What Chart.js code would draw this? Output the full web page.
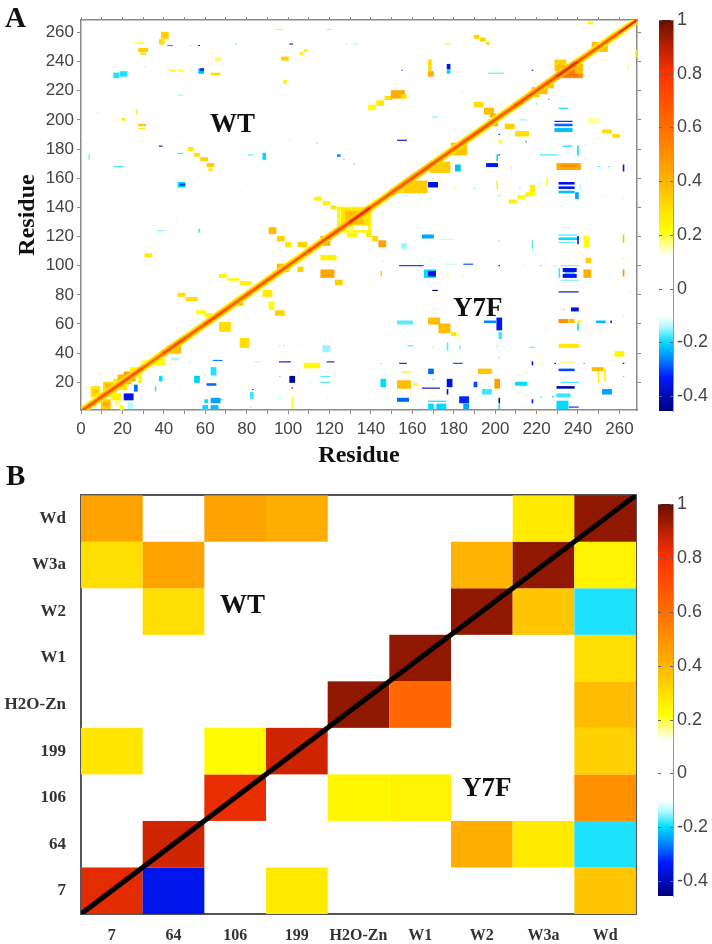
<!DOCTYPE html>
<html>
<head>
<meta charset="utf-8">
<script src="https://cdn.jsdelivr.net/npm/chart.js@4"></script>
<style>
  html, body { margin: 0; padding: 0; background: #fff; }
  #page { position: relative; width: 712px; height: 944px; overflow: hidden; }
  canvas { position: absolute; }
  #mapA { left: 0; top: 0; filter: blur(0.7px); }
  #barA { left: 650px; top: 0; filter: blur(0.4px); }
  #mapB { left: 0; top: 470px; filter: blur(0.4px); }
  #barB { left: 650px; top: 470px; filter: blur(0.4px); }
  .tag { position: absolute; font: bold 27px "Liberation Serif", serif; color: #111; line-height: 1; }
</style>
</head>
<body>
<div id="page">
  <canvas id="mapA" width="650" height="470"></canvas>
  <canvas id="barA" width="62" height="440"></canvas>
  <canvas id="mapB" width="650" height="474"></canvas>
  <canvas id="barB" width="62" height="474"></canvas>
  <div class="tag" style="left:5px;top:3px;font-size:29px">A</div>
  <div class="tag" style="left:6px;top:461px;font-size:29px">B</div>
  <div class="tag" style="left:210px;top:110px">WT</div>
  <div class="tag" style="left:453px;top:294px">Y7F</div>
  <div class="tag" style="left:220px;top:591px">WT</div>
  <div class="tag" style="left:462px;top:774px">Y7F</div>
</div>
<script>
// panel A: residue ticks
const residueTicksX = [0,10,20,30,40,50,60,70,80,90,100,110,120,130,140,150,160,170,180,190,200,210,220,230,240,250,260];
const residueTicksY = [20,40,60,80,100,120,140,160,180,200,220,240,260];

// panel A: diagonal, value per stretch of residues
const diagonalResidues = [1,10,20,30,40,50,60,70,80,90,100,110,120,130,140,150,160,170,180,190,200,210,220,230,240,250,260,268];
const diagonalCore = [.72,.75,.75,.66,.75,.7,.76,.68,.72,.72,.7,.75,.76,.85,.7,.7,.75,.7,.72,.75,.72,.75,.76,.85,.72,.7,.85,1];
const diagonalEdge = [.48,.5,.5,.42,.5,.46,.5,.46,.48,.48,.44,.5,.5,.58,.46,.5,.5,.48,.5,.5,.48,.5,.5,.6,.46,.46,.42,.45];
const diagonalHalo = [.26,.3,.3,.24,.3,.26,.28,.26,.26,.26,.24,.28,.3,.34,.24,.3,.3,.26,.28,.26,.24,.3,.3,.34,.26,.24,.2,.18];

// panel A cells: [x from, x to, y from, y to, correlation]
const wtWarmCells = [
  [8,8,266,266,.17],[27,30,253,253,.2],[28,32,247,249,.34],[29,31,245,246,.28],[38,40,252,255,.3],[39,42,256,260,.33],
  [43,45,234,234,.26],[47,49,234,234,.22],[65,67,240,243,.18],[63,67,231,232,.3],[27,27,204,207,.26],[5,5,200,200,.17],
  [17,17,200,200,.2],[20,21,200,201,.26],[28,31,196,197,.34],[28,31,194,194,.28],[52,54,179,181,.26],[55,57,175,177,.3],[58,61,172,174,.33],
  [61,64,168,170,.33],[62,63,165,167,.26],[94,97,262,262,.22],[107,107,266,266,.15],[119,121,262,262,.24],[97,100,241,243,.32],
  [106,107,245,246,.26],[108,109,247,248,.26],[98,99,225,227,.24],[113,113,247,247,.14],[47,49,188,188,.14],[39,40,176,176,.14],
  [36,36,158,158,.14],[91,94,122,126,.38],[95,98,117,120,.33],[99,101,113,116,.28],[105,109,113,116,.32],[113,116,145,147,.25],
  [117,120,142,144,.25],[121,123,139,141,.28],[107,110,146,146,.14],[31,34,106,108,.27],[47,50,79,81,.3],[51,56,76,78,.31],
  [56,60,67,69,.23],[60,63,65,67,.25],[67,70,92,94,.25],[71,76,90,91,.23],[77,82,87,89,.25],[88,92,79,83,.27],[91,93,70,75,.23],
  [94,98,66,69,.33],[139,142,207,210,.23],[143,146,210,213,.27],[147,150,214,216,.3],[150,156,215,220,.42],[155,157,215,217,.28],
  [176,178,252,252,.25],[190,192,256,258,.32],[193,195,254,256,.32],[196,197,252,253,.32],[168,170,230,233,.42],[168,169,234,241,.3],
  [190,194,209,212,.3],[195,199,204,208,.38],[198,200,202,204,.42],[199,199,266,266,.17],[199,199,244,244,.15],[245,247,266,267,.24]
];
const wtCoolCells = [
  [16,18,229,232,-.19],[19,22,230,233,-.19],[42,44,251,251,-.24],[53,53,251,251,-.15],[57,57,251,251,-.42],[75,75,252,252,-.17],
  [31,31,236,236,-.15],[57,59,232,235,-.22],[58,59,234,235,-.33],[47,49,217,217,-.15],[8,8,205,205,-.13],[3,3,184,184,-.13],
  [4,4,173,176,-.16],[16,20,168,168,-.18],[38,39,182,182,-.4],[47,49,177,177,-.18],[47,50,154,157,-.2],[48,50,155,156,-.3],
  [54,54,156,156,-.14],[80,80,156,156,-.14],[81,83,176,176,-.17],[88,89,173,177,-.2],[101,101,186,186,-.13],[114,114,184,184,-.17],
  [124,125,175,176,-.25],[127,127,173,173,-.18],[132,132,170,170,-.18],[101,102,252,252,-.36],[128,128,252,252,-.15],[132,133,252,252,-.15],
  [46,46,132,132,-.14],[37,40,124,124,-.16],[57,57,123,125,-.18],[155,155,234,234,-.26],[170,172,202,202,-.16],[153,157,186,186,-.42],
  [177,178,232,234,-.2],[177,178,235,238,-.35],[197,204,232,232,-.17],[218,218,234,234,-.33],[184,184,219,219,-.14],[140,140,167,167,-.14]
];
const y7fWarmCells = [
  [264,264,235,238,.18],[268,268,243,248,.22],[245,250,198,201,.16],[252,256,191,193,.3],[257,260,188,190,.3],[205,209,194,197,.33],
  [210,216,189,192,.3],[202,203,184,186,.2],[230,241,166,170,.42],[232,239,168,169,.52],[181,181,153,153,.22],[201,201,153,158,.25],
  [217,219,150,155,.25],[222,222,158,158,.14],[225,225,155,160,.2],[207,210,143,145,.25],[211,214,146,148,.22],[215,219,148,150,.22],
  [262,262,146,146,.22],[262,262,116,121,.36],[174,180,118,118,.18],[243,245,113,120,.23],[244,246,102,105,.34],[243,246,92,97,.42],
  [262,262,105,105,.22],[262,262,93,97,.52],[145,145,93,96,.32],[146,146,103,103,.22],[139,139,87,87,.15],[144,147,113,117,.46],
  [141,143,117,120,.32],[138,140,120,123,.28],[176,178,93,93,.17],[184,184,93,93,.22],[262,262,66,66,.22],[231,235,61,63,.5],
  [236,238,61,63,.38],[240,241,61,62,.25],[168,173,60,64,.38],[173,178,54,60,.38],[179,181,52,54,.28],[183,183,50,50,.25],
  [170,170,44,44,.22],[231,240,44,46,.27],[258,262,38,41,.24],[232,238,34,34,.22],[247,252,28,30,.38],[250,250,20,27,.25],[253,253,21,29,.27],
  [155,159,27,27,.25],[192,198,26,29,.36],[153,159,16,21,.38],[161,162,18,19,.24],[184,184,17,19,.16],[200,202,16,22,.46],[213,213,3,3,.18],
  [67,72,55,61,.3],[77,81,44,50,.3],[108,115,30,33,.23],[116,123,104,107,.25],[116,122,92,97,.44],[123,126,87,90,.33],
  [120,120,66,66,.17],[105,107,96,99,.33],[129,133,120,122,.25],[98,98,103,103,.18],[102,102,2,10,.2],[48,48,15,15,.17],[46,46,8,8,.15],[63,63,15,15,.15]
];
const y7fCoolCells = [
  [226,226,214,214,-.2],[220,220,211,211,-.18],[231,235,208,208,-.2],[229,237,199,199,-.36],[229,237,196,197,-.28],[229,237,192,194,-.22],
  [212,215,200,200,-.15],[202,202,190,190,-.34],[215,215,185,185,-.26],[222,230,176,176,-.18],[233,237,182,182,-.2],[240,240,176,182,-.2],
  [202,202,176,176,-.42],[196,201,168,170,-.33],[201,201,172,176,-.2],[208,208,167,167,-.17],[175,175,170,170,-.17],[181,183,165,169,-.22],
  [250,250,168,168,-.2],[255,255,168,168,-.18],[262,262,165,169,-.36],[168,172,154,157,-.36],[190,190,153,153,-.17],[212,212,153,153,-.16],
  [231,238,156,157,-.36],[231,238,153,154,-.34],[231,238,150,151,-.22],[241,241,152,156,-.14],[155,158,148,148,-.14],[164,164,146,146,-.15],[168,168,146,146,-.15],
  [202,202,148,148,-.18],[215,215,148,148,-.17],[239,240,146,150,-.24],[252,252,148,148,-.13],[232,232,141,141,-.15],[233,236,126,126,-.14],[231,239,121,121,-.18],
  [165,170,119,121,-.24],[155,157,112,115,-.15],[154,165,100,100,-.32],[166,171,92,97,-.2],[168,171,93,96,-.36],[176,181,101,101,-.14],
  [185,189,101,101,-.3],[202,202,100,100,-.42],[202,202,117,117,-.17],[218,218,112,117,-.17],[222,222,100,100,-.17],[214,214,101,101,-.14],
  [229,229,100,100,-.16],[231,240,118,119,-.2],[231,238,116,116,-.17],[240,240,115,120,-.34],[231,231,92,98,-.18],[233,239,96,98,-.36],[233,239,92,94,-.34],
  [234,238,95,95,-.24],[232,240,90,90,-.16],[232,240,100,100,-.16],[170,172,83,83,-.42],
  [231,240,82,82,-.42],[265,265,82,82,-.13],[237,240,69,71,-.36],[233,233,70,70,-.18],[240,240,56,60,-.2],[249,253,61,62,-.22],[256,256,61,62,-.32],
  [153,160,60,62,-.17],[195,200,61,62,-.26],[201,203,56,64,-.34],[202,203,50,54,-.18],[208,208,61,61,-.14],[158,160,45,45,-.18],[177,177,42,47,-.17],
  [183,183,43,45,-.16],[201,201,45,45,-.16],[217,219,44,44,-.17],[154,157,33,33,-.33],[145,145,33,33,-.16],[180,184,33,33,-.3],[202,202,37,37,-.17],
  [218,218,32,34,-.34],[229,229,33,33,-.42],[243,243,33,33,-.2],[262,262,33,33,-.42],[168,170,26,29,-.28],[231,238,28,29,-.3],[145,147,17,22,-.2],
  [165,173,16,16,-.4],[170,170,22,22,-.18],[177,179,17,22,-.36],[190,191,17,20,-.3],[210,215,18,20,-.2],[194,198,12,15,-.18],[230,238,16,17,-.42],
  [232,240,20,20,-.18],[230,236,10,12,-.18],[252,256,12,15,-.24],[262,262,24,24,-.18],[153,158,7,9,-.28],[168,170,1,5,-.2],[172,176,2,5,-.2],[168,176,7,7,-.2],
  [177,177,12,15,-.38],[183,187,6,10,-.32],[185,187,2,5,-.24],[202,202,6,9,-.42],[202,202,2,5,-.2],[218,218,6,8,-.34],[222,222,10,10,-.18],
  [228,228,10,10,-.26],[230,235,2,7,-.2],[236,240,3,3,-.33],[246,246,8,8,-.13],[64,68,35,35,-.26],[44,47,36,36,-.17],[52,52,34,34,-.15],
  [84,86,34,34,-.14],[96,101,34,34,-.36],[96,96,45,45,-.16],[98,98,45,45,-.15],[105,105,46,46,-.13],[117,120,41,45,-.15],[119,122,34,34,-.33],
  [38,39,21,24,-.2],[55,57,20,24,-.21],[63,65,25,30,-.19],[61,65,18,19,-.28],[60,60,25,25,-.16],[96,96,24,24,-.17],[101,103,20,24,-.42],
  [102,102,16,16,-.34],[111,111,20,20,-.13],[116,120,24,24,-.17],[116,120,20,20,-.18],[71,71,20,20,-.14],[36,36,14,17,-.18],[82,83,9,13,-.18],
  [83,83,15,15,-.3],[82,82,3,3,-.16],[59,61,1,4,-.2],[63,66,1,4,-.22],[60,61,6,8,-.2],[63,67,6,9,-.24],[68,68,8,8,-.2],[95,97,9,9,-.14],[119,119,9,9,-.13],[21,25,8,12,-.36],
  [23,25,2,6,-.14],[26,27,14,18,-.28],[29,29,9,9,-.16],[9,10,26,26,-.14]
];
const diagonalBoxCells = [
  [5,9,10,17,.27],[6,8,12,15,.36],[11,16,14,20,.3],[12,15,17,19,.38],[16,22,15,22,.28],[18,24,19,25,.38],[21,26,21,27,.46],[10,14,2,8,.34],[11,13,4,6,.42],
  [15,19,8,12,.25],[17,18,5,7,.2],[19,20,1,4,.22],[24,29,25,30,.25],[28,29,20,24,.24],[8,12,9,12,.27],[14,17,10,14,.25],[30,34,31,35,.2],[34,40,32,36,.22],
  [42,48,40,45,.38],[75,78,73,78,.38],[95,100,96,101,.38],[116,120,114,120,.42],[124,140,139,140,.24],[124,140,123,124,.24],[124,125,123,140,.24],[139,140,123,140,.24],
  [130,131,123,140,.2],[124,140,131,132,.2],[126,139,128,139,.28],[128,136,129,137,.38],[150,155,150,153,.32],[156,167,150,158,.34],[169,178,164,171,.34],[179,186,176,184,.36],
  [197,201,196,200,.42],[217,221,216,220,.36],[221,225,218,223,.38],[224,228,222,226,.36],[218,222,219,222,.42],[229,234,234,241,.33],[230,233,232,237,.38],[231,242,229,232,.5],
  [235,242,232,238,.38],[229,240,230,231,.6],[233,238,232,236,.58],[247,254,247,253,.38]
];

// panel B
const atomLabels = ["7","64","106","199","H2O-Zn","W1","W2","W3a","Wd"];
const row7 = [.84,-.35,null,.27,null,null,null,null,.36];
const row64 = [null,.87,null,null,null,null,.42,.27,-.19];
const row106 = [null,null,.83,null,.24,.25,null,null,.5];
const row199 = [.28,null,.23,.87,null,null,null,null,.33];
const rowH2OZn = [null,null,null,null,.95,.62,null,null,.38];
const rowW1 = [null,null,null,null,null,.95,null,null,.3];
const rowW2 = [null,.3,null,null,null,null,.95,.36,-.19];
const rowW3a = [.3,.45,null,null,null,null,.4,.95,.25];
const rowWd = [.45,null,.45,.42,null,null,null,.27,.95];
const diagonalB = [0,9];

// colour bars
const barTicksA = [-.4,-.2,0,.2,.4,.6,.8,1];
const barLow = -.455;
const barHigh = 1;
const colorValues = [-.455,-.33,-.27,-.2,-.14,-.1,.12,.16,.22,.4,.6,.8,.9,1];
const colorStops = [[0,0,125],[0,25,255],[0,120,255],[0,220,255],[180,250,255],[255,255,255],[255,255,255],[255,255,160],[255,255,0],[255,180,0],[255,110,0],[255,50,0],[185,32,0],[105,15,0]];

function colorFor(v) {
  let i = 0;
  while (i < colorValues.length - 2 && v > colorValues[i + 1]) i++;
  const t = Math.max(0, Math.min(1, (v - colorValues[i]) / (colorValues[i + 1] - colorValues[i])));
  const c = colorStops[i].map((a, k) => Math.round(a + (colorStops[i + 1][k] - a) * t));
  return `rgb(${c[0]},${c[1]},${c[2]})`;
}

// paints the {x,y,x2,y2,v} cells of a dataset through its scales
const cellPlugin = {
  id: "cells",
  beforeDatasetsDraw(chart) {
    const { ctx, chartArea, scales } = chart;
    ctx.save();
    ctx.beginPath();
    ctx.rect(chartArea.left, chartArea.top, chartArea.width, chartArea.height);
    ctx.clip();
    chart.data.datasets.forEach((ds) => {
      if (!ds.cellPad && ds.cellPad !== 0) return;
      ds.data.forEach((c) => {
        const x0 = scales.x.getPixelForValue(c.x - ds.cellPad);
        const x1 = scales.x.getPixelForValue(c.x2 + ds.cellPad);
        const y0 = scales.y.getPixelForValue(c.y - ds.cellPad);
        const y1 = scales.y.getPixelForValue(c.y2 + ds.cellPad);
        ctx.fillStyle = colorFor(c.v);
        ctx.fillRect(x0, y1, x1 - x0, y0 - y1);
      });
    });
    ctx.restore();
  },
};

// short marks inside the colour bar
const barTickPlugin = {
  id: "barTicks",
  afterDatasetsDraw(chart) {
    const { ctx, chartArea, scales } = chart;
    ctx.save();
    ctx.strokeStyle = "#666";
    scales.y.ticks.forEach((t) => {
      const y = Math.round(scales.y.getPixelForValue(t.value)) + 0.5;
      ctx.beginPath();
      ctx.moveTo(chartArea.left, y);
      ctx.lineTo(chartArea.left + 3, y);
      ctx.moveTo(chartArea.right - 3, y);
      ctx.lineTo(chartArea.right, y);
      ctx.stroke();
    });
    ctx.restore();
  },
};

function cellDataset(cells, pad) {
  return {
    data: cells.map((c) => ({ x: c[0], x2: c[1], y: c[2], y2: c[3], v: c[4] })),
    cellPad: pad,
    pointRadius: 0,
    showLine: false,
  };
}

function diagonalDataset(values, width) {
  return {
    data: diagonalResidues.map((r) => ({ x: r, y: r })),
    showLine: true,
    pointRadius: 0,
    borderWidth: width,
    borderCapStyle: "round",
    segment: { borderColor: (c) => colorFor(values[c.p0DataIndex]) },
  };
}

const frameA = "#8a8a8a";
const axisSide = (size) => (s) => { if (s.isHorizontal()) s.height = size; else s.width = size; };

new Chart(document.getElementById("mapA"), {
  type: "scatter",
  plugins: [cellPlugin],
  data: {
    datasets: [
      diagonalDataset(diagonalCore, 1.8),
      diagonalDataset(diagonalEdge, 4.5),
      diagonalDataset(diagonalHalo, 7.5),
      cellDataset(wtWarmCells, .38),
      cellDataset(wtCoolCells, .38),
      cellDataset(y7fWarmCells, .38),
      cellDataset(y7fCoolCells, .38),
      cellDataset(diagonalBoxCells, .38),
    ],
  },
  options: {
    responsive: false,
    animation: false,
    plugins: { legend: { display: false }, tooltip: { enabled: false } },
    layout: { padding: 0 },
    scales: {
      x: {
        type: "linear", min: 0, max: 268.5, position: "bottom",
        afterBuildTicks: (s) => { s.ticks = residueTicksX.map((value) => ({ value })); },
        afterFit: axisSide(60),
        ticks: { autoSkip: false, maxRotation: 0, padding: 5, color: "#444", font: { family: "Liberation Sans", size: 17 },
          callback: (v) => (v % 20 === 0 ? v : "") },
        grid: { drawOnChartArea: false, color: frameA, tickLength: 4 },
        border: { color: frameA, width: 1.5 },
        title: { display: true, text: "Residue", color: "#111", font: { family: "Liberation Serif", size: 24, weight: "bold" }, padding: { top: 4, bottom: 0 } },
      },
      y: {
        type: "linear", min: 1, max: 268.5, position: "left",
        afterBuildTicks: (s) => { s.ticks = residueTicksY.map((value) => ({ value })); },
        afterFit: axisSide(81),
        ticks: { autoSkip: false, padding: 3, color: "#444", font: { family: "Liberation Sans", size: 17 } },
        grid: { drawOnChartArea: false, color: frameA, tickLength: 4 },
        border: { color: frameA, width: 1.5 },
        title: { display: true, text: "Residue", color: "#111", font: { family: "Liberation Serif", size: 24, weight: "bold" }, padding: { top: 13, bottom: 0 } },
      },
      xTop: {
        type: "linear", min: 0, max: 268.5, position: "top",
        afterBuildTicks: (s) => { s.ticks = residueTicksX.map((value) => ({ value })); },
        afterFit: axisSide(20),
        ticks: { display: false, autoSkip: false },
        grid: { drawOnChartArea: false, color: frameA, tickLength: 3 },
        border: { color: frameA, width: 1.5 },
      },
      yRight: {
        type: "linear", min: 1, max: 268.5, position: "right",
        afterBuildTicks: (s) => { s.ticks = residueTicksY.map((value) => ({ value })); },
        afterFit: axisSide(13),
        ticks: { display: false, autoSkip: false },
        grid: { drawOnChartArea: false, color: frameA, tickLength: 4 },
        border: { color: frameA, width: 1.5 },
      },
    },
  },
});

const frameB = "#555";
const atomTicks = (s) => { s.ticks = atomLabels.map((_, i) => ({ value: i + .5 })); };
const matrixRows = [row7, row64, row106, row199, rowH2OZn, rowW1, rowW2, rowW3a, rowWd];
const matrixCells = [];
matrixRows.forEach((row, r) => row.forEach((v, c) => {
  if (v !== null) matrixCells.push([c, c + 1, r, r + 1, v]);
}));

new Chart(document.getElementById("mapB"), {
  type: "scatter",
  plugins: [cellPlugin],
  data: {
    datasets: [
      { data: diagonalB.map((d) => ({ x: d, y: d })), showLine: true, pointRadius: 0, borderColor: "#000", borderWidth: 5 },
      cellDataset(matrixCells, 0),
    ],
  },
  options: {
    responsive: false,
    animation: false,
    plugins: { legend: { display: false }, tooltip: { enabled: false } },
    layout: { padding: 0 },
    scales: {
      x: {
        type: "linear", min: 0, max: 9, position: "bottom",
        afterBuildTicks: atomTicks,
        afterFit: axisSide(30),
        ticks: { autoSkip: false, maxRotation: 0, padding: 12, color: "#333", font: { family: "Liberation Serif", size: 16, weight: "bold" },
          callback: (v, i) => atomLabels[i] },
        grid: { display: true, drawOnChartArea: false, drawTicks: false },
        border: { color: frameB, width: 2 },
      },
      y: {
        type: "linear", min: 0, max: 9, position: "left",
        afterBuildTicks: atomTicks,
        afterFit: axisSide(81),
        ticks: { autoSkip: false, padding: 15, color: "#333", font: { family: "Liberation Serif", size: 17, weight: "bold" },
          callback: (v, i) => atomLabels[i] },
        grid: { display: true, drawOnChartArea: false, drawTicks: false },
        border: { color: frameB, width: 2 },
      },
      xTop: {
        type: "linear", min: 0, max: 9, position: "top",
        afterFit: axisSide(10),
        ticks: { display: false },
        grid: { drawOnChartArea: false, drawTicks: false },
        border: { color: frameB, width: 2 },
      },
      yRight: {
        type: "linear", min: 0, max: 9, position: "right",
        afterFit: axisSide(14),
        ticks: { display: false },
        grid: { drawOnChartArea: false, drawTicks: false },
        border: { color: frameB, width: 2 },
      },
    },
  },
});

function colorBar(id, padding) {
  return new Chart(document.getElementById(id), {
    type: "bar",
    plugins: [barTickPlugin],
    data: {
      labels: ["r"],
      datasets: [{
        data: [[barLow, barHigh]],
        barPercentage: 1,
        categoryPercentage: 1,
        backgroundColor: (c) => {
          const chart = c.chart;
          if (!chart.chartArea) return "#fff";
          const y = chart.scales.y;
          const g = chart.ctx.createLinearGradient(0, y.getPixelForValue(barLow), 0, y.getPixelForValue(barHigh));
          colorValues.forEach((v) => g.addColorStop((v - barLow) / (barHigh - barLow), colorFor(v)));
          return g;
        },
      }],
    },
    options: {
      responsive: false,
      animation: false,
      plugins: { legend: { display: false }, tooltip: { enabled: false } },
      layout: { padding },
      scales: {
        x: { display: false },
        y: {
          position: "right", min: barLow, max: barHigh,
          afterBuildTicks: (s) => { s.ticks = barTicksA.map((value) => ({ value })); },
          afterFit: axisSide(39),
          ticks: { autoSkip: false, padding: 4, color: "#444", font: { family: "Liberation Sans", size: 18 },
            callback: (v) => String(Math.round(v * 10) / 10) },
          grid: { display: true, drawOnChartArea: false, drawTicks: false },
          border: { color: "#999", width: 1 },
        },
      },
    },
  });
}

colorBar("barA", { left: 9, top: 20, bottom: 29, right: 0 });
colorBar("barB", { left: 8, top: 34, bottom: 48, right: 0 });
</script>
</body>
</html>
